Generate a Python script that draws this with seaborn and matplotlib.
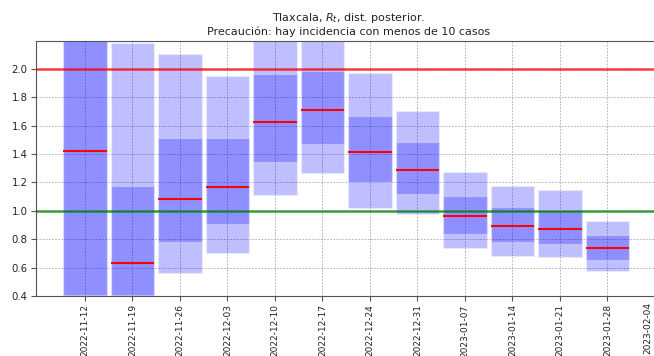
import numpy as np
import pandas as pd
import matplotlib
matplotlib.use("Agg")
import matplotlib.pyplot as plt
import matplotlib.dates as mdates
import seaborn as sns

# Weekly posterior summaries of R_t
semanas = ["2022-11-12", "2022-11-19", "2022-11-26", "2022-12-03", "2022-12-10",
           "2022-12-17", "2022-12-24", "2022-12-31", "2023-01-07", "2023-01-14",
           "2023-01-21", "2023-01-28"]
mediana = [1.42, 0.633, 1.085, 1.17, 1.622, 1.707, 1.411, 1.284, 0.962, 0.894, 0.872, 0.735]
q05 = [0.30, 0.30, 0.565, 0.704, 1.113, 1.265, 1.016, 0.974, 0.735, 0.679, 0.672, 0.579]
q25 = [0.41, 0.41, 0.778, 0.908, 1.345, 1.468, 1.199, 1.116, 0.837, 0.780, 0.764, 0.652]
q75 = [2.45, 1.177, 1.515, 1.515, 1.962, 1.986, 1.669, 1.482, 1.106, 1.028, 1.005, 0.827]
q95 = [3.20, 2.180, 2.104, 1.950, 2.350, 2.500, 1.967, 1.700, 1.274, 1.177, 1.144, 0.931]

etiquetas_x = ["2022-11-12", "2022-11-19", "2022-11-26", "2022-12-03", "2022-12-10",
               "2022-12-17", "2022-12-24", "2022-12-31", "2023-01-07", "2023-01-14",
               "2023-01-21", "2023-01-28", "2023-02-04"]
yticks = [0.4, 0.6, 0.8, 1.0, 1.2, 1.4, 1.6, 1.8, 2.0]

sns.set_style("ticks")
plt.rcParams["font.family"] = ["DejaVu Sans"]

x = mdates.date2num(pd.to_datetime(semanas))
df = pd.DataFrame({
    "fecha": x,
    "med": mediana,
    "q05": q05, "q25": q25, "q75": q75, "q95": q95,
})
df["alto90"] = df["q95"] - df["q05"]
df["alto50"] = df["q75"] - df["q25"]

fig = plt.figure(figsize=(6.54, 3.56), dpi=100)
ax = fig.add_axes([36 / 654, 60 / 356, 626 / 654, 255 / 356])

ancho = 0.907  # fraction of one week
sns.barplot(data=df, x="fecha", y="alto90", bottom=df["q05"].to_numpy(), native_scale=True,
            orient="x", errorbar=None, color="blue", saturation=1, alpha=0.25,
            width=ancho, edgecolor="white", linewidth=1, ax=ax, zorder=2)
sns.barplot(data=df, x="fecha", y="alto50", bottom=df["q25"].to_numpy(), native_scale=True,
            orient="x", errorbar=None, color="blue", saturation=1, alpha=0.25,
            width=ancho, edgecolor="white", linewidth=1, ax=ax, zorder=2)

media_ancho = ancho * 7 / 2
ax.hlines(df["med"], df["fecha"] - media_ancho, df["fecha"] + media_ancho,
          color="red", linewidth=1.5, zorder=3)

ax.axhline(2.0, color="red", alpha=0.75, linewidth=1.8, zorder=4)
ax.axhline(1.0, color="green", alpha=0.75, linewidth=1.8, zorder=4)

x0 = mdates.date2num(pd.Timestamp("2022-11-12"))
ax.set_xlim(x0 - 7.22, x0 - 7.22 + 626 / 47.5 * 7)
ax.set_ylim(0.4, 2.195)

tick_pos = mdates.date2num(pd.to_datetime(etiquetas_x))
ax.set_xticks(tick_pos)
# the last label sits at the canvas edge, so it is drawn separately, nudged inward
ax.set_xticklabels(etiquetas_x[:-1] + [""], rotation=90, fontsize=6.5)
ax.annotate(etiquetas_x[-1], xy=(tick_pos[-1], 0), xycoords=ax.get_xaxis_transform(),
            xytext=(-7, -6), textcoords="offset pixels", rotation=90,
            ha="center", va="top", fontsize=6.5, color="#222222", annotation_clip=False)
ax.set_yticks(yticks)
ax.set_yticklabels([f"{v:.1f}" for v in yticks], fontsize=7.3)
ax.set_xlabel("")
ax.set_ylabel("")

ax.grid(True, linestyle=(0, (2.5, 2)), color="#999999", linewidth=0.5, zorder=0)
ax.set_axisbelow(True)
for s in ax.spines.values():
    s.set_visible(True)
    s.set_color("#555555")
ax.tick_params(length=3.5, color="#555555", labelcolor="#222222", pad=2.5)

ax.set_title("Tlaxcala, $R_t$, dist. posterior.\nPrecaución: hay incidencia con menos de 10 casos",
             fontsize=8, color="#222222", pad=4)

fig.savefig("out.png", dpi=100)
